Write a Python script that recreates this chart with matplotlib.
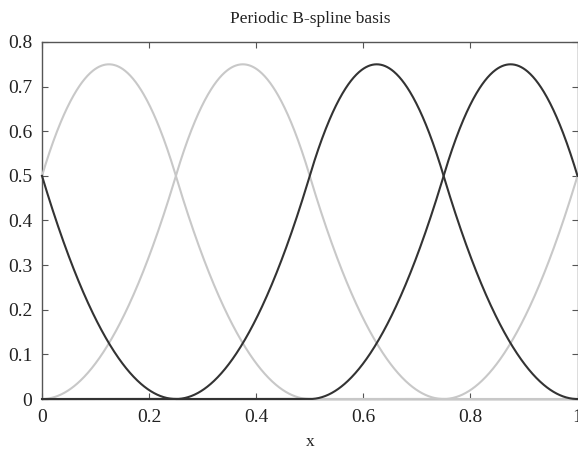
import numpy as np
import matplotlib
matplotlib.use("Agg")
import matplotlib.pyplot as plt
from matplotlib.ticker import FuncFormatter

# Data: periodic quadratic B-spline basis on [0, 1]
knots = [0.0, 0.25, 0.5, 0.75]      # interior knots, period 1
period = 1.0
degree = 2
basis_colors = ["#c8c8c8", "#c8c8c8", "#333333", "#333333"]
xticks = [0, 0.2, 0.4, 0.6, 0.8, 1.0]
yticks = [0, 0.1, 0.2, 0.3, 0.4, 0.5, 0.6, 0.7, 0.8]


def bspline(t, kv, i, k):
    if k == 0:
        return np.where((t >= kv[i]) & (t < kv[i + 1]), 1.0, 0.0)
    a = (t - kv[i]) / (kv[i + k] - kv[i]) * bspline(t, kv, i, k - 1)
    b = (kv[i + k + 1] - t) / (kv[i + k + 1] - kv[i + 1]) * bspline(t, kv, i + 1, k - 1)
    return a + b


# extended knot vector for periodic evaluation
ext = [k - period for k in knots] + knots + [k + period for k in knots] + [2 * period]
ext = np.array(ext)
x = np.linspace(0, 1, 1001)

plt.rcParams["font.family"] = ["Liberation Serif", "DejaVu Serif"]
fig = plt.figure(figsize=(5.78, 4.51), dpi=100)
ax = fig.add_axes([42 / 578, 1 - 399 / 451, (577.5 - 42) / 578, (399 - 42) / 451])

n = len(knots)
for j in range(n):
    start = knots[j] - 0.25  # support [start, start + 0.75]
    y = np.zeros_like(x)
    for shift in (-period, 0.0, period):
        i = int(np.argmin(np.abs(ext - (start + shift))))
        if i + degree + 1 < len(ext):
            y = y + bspline(x, ext, i, degree)
    ax.plot(x, y, color=basis_colors[j], lw=1.5, clip_on=False, zorder=3)

ax.set_xlim(0, 1)
ax.set_ylim(0, 0.8)
ax.set_xticks(xticks)
ax.set_yticks(yticks)
fmt = FuncFormatter(lambda v, p: "%g" % v)
ax.xaxis.set_major_formatter(fmt)
ax.yaxis.set_major_formatter(fmt)
ax.tick_params(direction="in", length=4, width=0.8, color="#555555",
               top=True, right=True, labelsize=14, labelcolor="#222222")
ax.tick_params(axis="y", pad=7)
ax.tick_params(axis="x", pad=7)
for s in ax.spines.values():
    s.set_color("#555555")
    s.set_linewidth(1.0)
ax.set_title("Periodic B-spline basis", fontsize=12.5, pad=14, color="#222222")
ax.set_xlabel("x", fontsize=12.5, labelpad=6, color="#222222")

fig.savefig("out.png", dpi=100)
